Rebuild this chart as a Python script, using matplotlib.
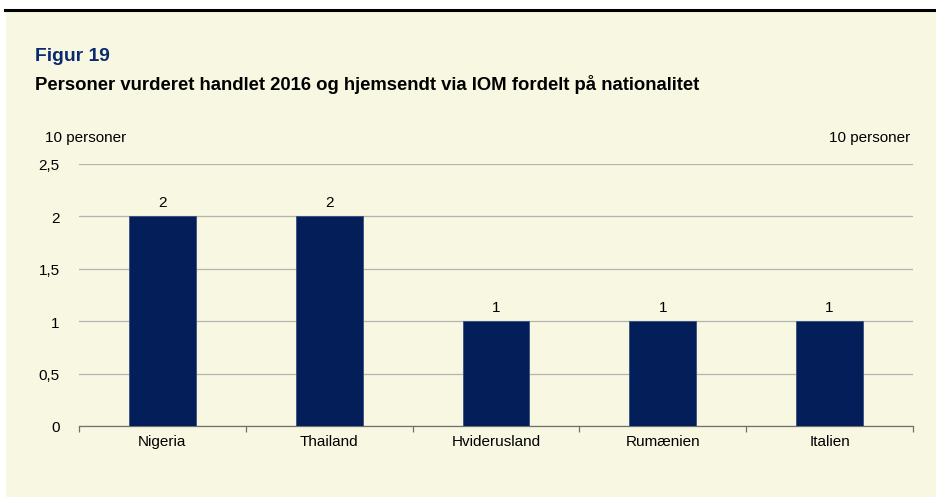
import matplotlib
matplotlib.use("Agg")
import matplotlib.pyplot as plt
from matplotlib.patches import Rectangle
from matplotlib.lines import Line2D

plt.rcParams['font.family'] = ['Liberation Sans', 'DejaVu Sans']

categories = ["Nigeria", "Thailand", "Hviderusland", "Rumænien", "Italien"]
values = [2, 2, 1, 1, 1]
yticks = [0, 0.5, 1, 1.5, 2, 2.5]
ytick_labels = ["0", "0,5", "1", "1,5", "2", "2,5"]

W, H = 936, 502
fig = plt.figure(figsize=(W/100, H/100), dpi=100)
fig.patch.set_facecolor("white")

bg = "#F8F7E1"
fig.patches.append(Rectangle((6/W, 4/H), (W-6)/W, (H-16)/H, transform=fig.transFigure,
                             facecolor=bg, edgecolor="none", zorder=-5))
fig.lines.append(Line2D([5/W, 1], [1-11/H, 1-11/H], transform=fig.transFigure,
                        color="black", lw=2.2, zorder=-4))

fig.text(35/W, 1-61/H, "Figur 19", color="#0A2A6E", fontsize=13.9, fontweight="bold",
         va="baseline", ha="left")
fig.text(35/W, 1-90/H, "Personer vurderet handlet 2016 og hjemsendt via IOM fordelt på nationalitet",
         color="black", fontsize=13.3, fontweight="bold", va="baseline", ha="left")

left, right, top, bottom = 79, 913, 165, 427
ax = fig.add_axes([left/W, 1-bottom/H, (right-left)/W, (bottom-top)/H])
ax.set_facecolor("none")
ax.set_zorder(2)
x = list(range(len(categories)))
ax.bar(x, values, width=0.4, color="#041E5A", edgecolor="#3A4F80", linewidth=0.6, zorder=3)
ax.set_xlim(-0.5, len(categories)-0.5)
ax.set_ylim(0, 2.5)
ax.set_yticks(yticks)
ax.set_yticklabels(ytick_labels, fontsize=11)
ax.yaxis.grid(True, color="#B5B5B0", lw=0.9, zorder=0)
ax.set_axisbelow(True)
for s in ["top", "right", "left"]:
    ax.spines[s].set_visible(False)
ax.spines["bottom"].set_color("#707070")
ax.spines["bottom"].set_linewidth(0.9)
ax.tick_params(axis="y", length=0, pad=14)
ax.set_xticks(x)
ax.set_xticklabels(categories, fontsize=11)
ax.tick_params(axis="x", length=0, pad=6)
ax.set_xticks([i - 0.5 for i in range(len(categories)+1)], minor=True)
ax.tick_params(axis="x", which="minor", length=4, color="#707070", width=0.9, direction="out")
for xi, v in zip(x, values):
    ax.annotate(str(v), (xi, v), xytext=(0, 5), textcoords="offset points",
                ha="center", va="bottom", fontsize=11)

fig.text(45/W, 1-138/H, "10 personer", fontsize=11, ha="left", va="center")
fig.text(910/W, 1-138/H, "10 personer", fontsize=11, ha="right", va="center")

fig.savefig("out.png", dpi=100, facecolor=fig.get_facecolor())
